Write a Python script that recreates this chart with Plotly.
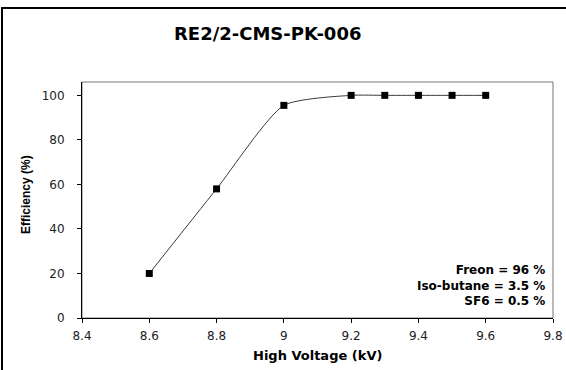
import plotly.graph_objects as go

voltage = [8.6, 8.8, 9.0, 9.2, 9.3, 9.4, 9.5, 9.6]
efficiency = [20, 58, 95.5, 100, 100, 100, 100, 100]
x_ticks = [8.4, 8.6, 8.8, 9.0, 9.2, 9.4, 9.6, 9.8]
x_tick_labels = ["8.4", "8.6", "8.8", "9", "9.2", "9.4", "9.6", "9.8"]
y_ticks = [0, 20, 40, 60, 80, 100]
title = "RE2/2-CMS-PK-006"
x_title = "High Voltage (kV)"
y_title = "Efficiency (%)"
gas_lines = ["Freon = 96 %", "Iso-butane = 3.5 %", "SF6 = 0.5 %"]

W, H = 566, 370
L, R, T, B = 82, 13, 82, 52
pw, ph = W - L - R, H - T - B

def px_x(x):
    return (x - L) / pw

def px_y(y):
    return (H - B - y) / ph

fig = go.Figure()
fig.add_trace(go.Scatter(
    x=voltage, y=efficiency, mode="lines+markers",
    line=dict(color="#3a3a3a", width=1, shape="spline", smoothing=0.6),
    marker=dict(symbol="square", size=7, color="black"),
    showlegend=False, hoverinfo="skip"))

wide = "DejaVu Sans, Verdana, sans-serif"
arial = "Liberation Sans, Arial, sans-serif"
tc = "#222222"

fig.update_layout(
    width=W, height=H,
    margin=dict(l=L, r=R, t=T, b=B, autoexpand=False),
    paper_bgcolor="white", plot_bgcolor="white",
    xaxis=dict(range=[8.4, 9.8], tickvals=x_ticks, ticktext=x_tick_labels,
               automargin=False,
               showgrid=False, zeroline=False, showline=True, linecolor="black",
               linewidth=1, ticks="outside", ticklen=4, tickcolor="black",
               ticklabelstandoff=3,
               tickfont=dict(size=12, family=wide, color=tc)),
    yaxis=dict(range=[0, 106], tickvals=y_ticks, automargin=False,
               showgrid=False, zeroline=False, showline=True, linecolor="black",
               linewidth=1, ticks="outside", ticklen=4, tickcolor="black",
               ticklabelstandoff=10,
               tickfont=dict(size=12, family=wide, color=tc)),
)

# plot-area border (gray, top & right)
fig.add_shape(type="rect", xref="paper", yref="paper", x0=0, y0=0, x1=1, y1=1,
              line=dict(color="#777777", width=1), layer="below")
# outer chart border
fig.add_shape(type="rect", xref="paper", yref="paper",
              x0=px_x(2), x1=px_x(W + 4),
              y0=px_y(H + 4), y1=px_y(8),
              line=dict(color="black", width=2))

# title
fig.add_annotation(xref="paper", yref="paper", x=px_x(267), y=px_y(33),
                   xanchor="center", yanchor="middle", showarrow=False,
                   text="<b>" + title + "</b>",
                   font=dict(size=18, family=wide, color="black"))
# axis titles
fig.add_annotation(xref="paper", yref="paper", x=px_x(317), y=px_y(355),
                   xanchor="center", yanchor="middle", showarrow=False,
                   text="<b>" + x_title + "</b>",
                   font=dict(size=13, family=wide, color="black"))
fig.add_annotation(xref="paper", yref="paper", x=px_x(26), y=px_y(195),
                   xanchor="center", yanchor="middle", showarrow=False,
                   textangle=-90,
                   text="<b>" + y_title + "</b>",
                   font=dict(size=12, family=arial, color="black"))

# gas mixture text
fig.add_annotation(xref="paper", yref="paper",
                   x=px_x(547), y=px_y(285),
                   xanchor="right", yanchor="middle", align="right",
                   showarrow=False,
                   text="<b>" + "<br>".join(gas_lines) + "</b>",
                   font=dict(size=12, family=wide, color="black"))

fig.write_html("out.html", config={"displayModeBar": False},
               post_script="document.body.style.margin='0';"
                           "document.body.style.overflow='hidden';")
